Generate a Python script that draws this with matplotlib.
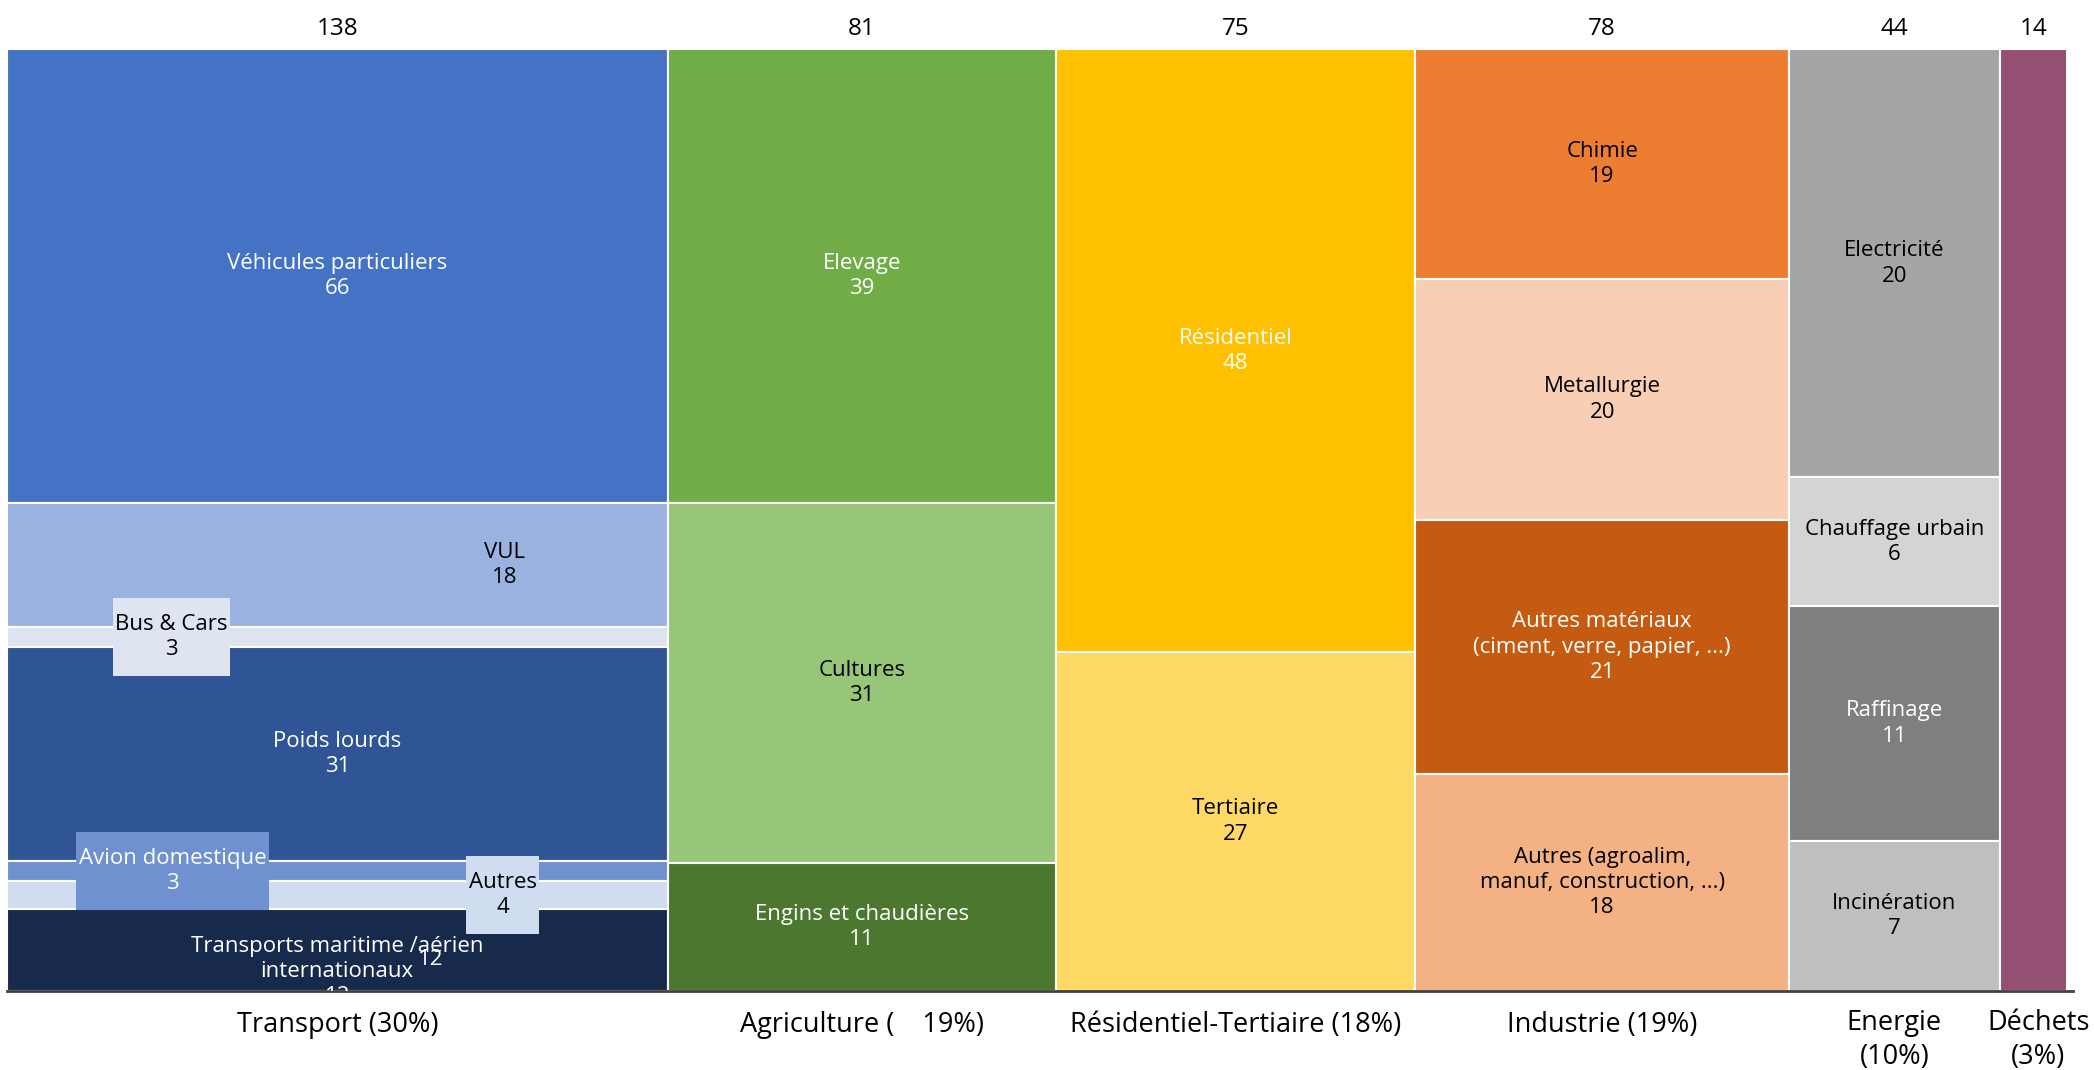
import matplotlib.pyplot as plt
import numpy as np
from matplotlib.path import Path

plt.rcParams['font.family'] = ['Open Sans', 'DejaVu Sans']

# sector totals (column widths) and bottom labels
sectors = ["Transport", "Agriculture", "Résidentiel-Tertiaire", "Industrie", "Energie", "Déchets"]
totals = [138, 81, 75, 78, 44, 14]
sector_labels = ["Transport (30%)", "Agriculture (    19%)", "Résidentiel-Tertiaire (18%)",
                 "Industrie (19%)", "Energie\n(10%)", "Déchets\n(3%)"]

# sub-sectors, top to bottom in each column
transport_names = ["Véhicules particuliers", "VUL", "Bus & Cars", "Poids lourds",
                   "Avion domestique", "Autres", "Transports maritime /aérien\ninternationaux"]
transport_vals = [66, 18, 3, 31, 3, 4, 12]
transport_cols = ["#4472C4", "#9AB2DF", "#DEE4F0", "#2F5597", "#6F91D0", "#D0DCEF", "#172A4B"]

agri_names = ["Elevage", "Cultures", "Engins et chaudières"]
agri_vals = [39, 31, 11]
agri_cols = ["#70AD47", "#98C679", "#4C772F"]

res_names = ["Résidentiel", "Tertiaire"]
res_vals = [48, 27]
res_cols = ["#FFC000", "#FFD966"]

ind_names = ["Chimie", "Metallurgie", "Autres matériaux\n(ciment, verre, papier, ...)",
             "Autres (agroalim,\nmanuf, construction, ...)"]
ind_vals = [19, 20, 21, 18]
ind_cols = ["#ED7D31", "#F8CEB4", "#C55A11", "#F4B183"]

en_names = ["Electricité", "Chauffage urbain", "Raffinage", "Incinération"]
en_vals = [20, 6, 11, 7]
en_cols = ["#A5A5A5", "#D4D4D4", "#7F7F7F", "#BFBFBF"]

dech_names = [""]
dech_vals = [14]
dech_cols = ["#954F72"]

columns = [
    (transport_names, transport_vals, transport_cols),
    (agri_names, agri_vals, agri_cols),
    (res_names, res_vals, res_cols),
    (ind_names, ind_vals, ind_cols),
    (en_names, en_vals, en_cols),
    (dech_names, dech_vals, dech_cols),
]

white_text = {"Véhicules particuliers", "Poids lourds", "Avion domestique",
              "Transports maritime /aérien\ninternationaux", "Elevage", "Engins et chaudières",
              "Résidentiel", "Autres matériaux\n(ciment, verre, papier, ...)", "Raffinage"}
# labels that sit in a box or off-centre (x offset from column centre, in value units)
boxed = {"Bus & Cars", "Avion domestique", "Autres"}
x_shift = {"VUL": 35, "Bus & Cars": -34.6, "Avion domestique": -34.4, "Autres": 34.5}


def label_box(x0, y0, width, height, mutation_size):
    # tight left/right, taller top/bottom like the data-label boxes
    px, py = 0.12 * mutation_size, 0.72 * mutation_size
    x0, y0 = x0 - px, y0 - py
    x1, y1 = x0 + width + 2 * px, y0 + height + 2 * py
    return Path([(x0, y0), (x1, y0), (x1, y1), (x0, y1), (x0, y0)], closed=True)


fs = 16
ls = 1.27
fig = plt.figure(figsize=(20.94, 10.70), dpi=100)
ax = fig.add_axes([0.0032, 0.0737, 0.9866, 0.8801])

left = 0
for (names, vals, cols), tot, slab in zip(columns, totals, sector_labels):
    vals = np.array(vals, dtype=float)
    frac = vals / vals.sum()
    tops = 1 - np.concatenate([[0], np.cumsum(frac)[:-1]])
    ax.bar(np.full(len(vals), left), -frac, bottom=tops, width=tot, align='edge',
           color=cols, edgecolor='white', linewidth=1.5)
    cx = left + tot / 2
    for name, v, top, f in zip(names, vals, tops, frac):
        if not name:
            continue
        yc = top - f / 2
        tc = 'white' if name in white_text else 'black'
        x = cx + x_shift.get(name, 0)
        if name.startswith("Transports"):
            ax.text(cx, yc - 0.023, f"{name}\n{int(v)}", ha='center', va='center', fontsize=fs,
                    color=tc, linespacing=ls, clip_on=True)
            ax.text(cx + 19.5, yc - 0.01, f"{int(v)}", ha='center', va='center', fontsize=fs, color=tc)
            continue
        bbox = None
        if name in boxed:
            col = cols[names.index(name)]
            bbox = dict(boxstyle=label_box, facecolor=col, edgecolor='none')
        ax.text(x, yc, f"{name}\n{int(v)}", ha='center', va='center', fontsize=fs,
                color=tc, linespacing=ls, bbox=bbox)
    ax.text(cx, 1.022, str(tot), ha='center', va='center', fontsize=17.5,
            transform=ax.get_xaxis_transform())
    yl = -0.052 if "\n" in slab else -0.0355
    xl = cx + 1 if slab.startswith("Déchets") else cx
    ax.text(xl, yl, slab, ha='center', va='center', fontsize=19.5, linespacing=1.3,
            transform=ax.get_xaxis_transform())
    left += tot

ax.set_xlim(0, 431.2)
ax.set_ylim(0, 1)
for s in ['top', 'right', 'left']:
    ax.spines[s].set_visible(False)
ax.spines['bottom'].set_color('#404040')
ax.spines['bottom'].set_linewidth(2)
ax.set_xticks([])
ax.set_yticks([])

fig.savefig("out.png", dpi=100)
plt.close()
